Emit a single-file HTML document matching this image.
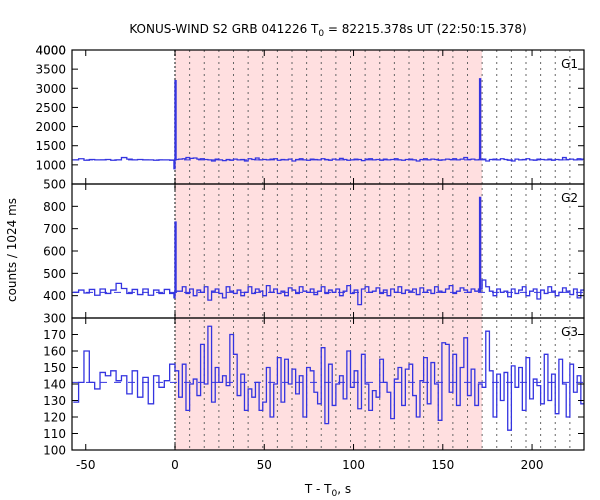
<!DOCTYPE html>
<html><head><meta charset="utf-8"><style>
body{margin:0;background:#fff}
svg{display:block;font-family:"DejaVu Sans","Liberation Sans",sans-serif}
</style></head><body>
<svg id="c" width="600" height="500" xmlns="http://www.w3.org/2000/svg">
<text x="328" y="33" text-anchor="middle" font-size="12">KONUS-WIND S2 GRB 041226 T<tspan font-size="9" dy="3">0</tspan><tspan dy="-3"> = 82215.378s UT (22:50:15.378)</tspan></text>
<text x="328" y="493" text-anchor="middle" font-size="12">T - T<tspan font-size="9" dy="3">0</tspan><tspan dy="-3">, s</tspan></text>
<text transform="translate(16,250) rotate(-90)" text-anchor="middle" font-size="12">counts / 1024 ms</text>
</svg>
<script>
const preStart=-57, preW=3, postW=2.048, spikeW=0.6;
const g1Pre=[1130,1160,1120,1140,1130,1130,1140,1120,1130,1190,1150,1130,1140,1130,1130,1120,1130,1130,1120];
const g2Pre=[415,425,412,428,402,430,410,425,455,432,410,428,405,430,402,425,410,428,410];
const g3Pre=[129,141,160,141,137,147,145,148,142,145,134,148,132,144,128,145,138,142,152];
const g1Post=[1140,1150,1160,1190,1170,1180,1150,1160,1140,1130,1100,1150,1130,1110,1140,1120,1150,1130,1140,1100,1160,1140,1180,1130,1140,1130,1150,1160,1120,1140,1130,1150,1100,1140,1160,1130,1120,1150,1140,1130,1160,1140,1120,1150,1130,1170,1140,1120,1130,1150,1140,1110,1150,1160,1130,1140,1120,1150,1130,1140,1160,1130,1120,1140,1150,1130,1100,1140,1160,1130,1150,1140,1120,1130,1150,1140,1160,1130,1150,1190,1140,1150,1130,1140,1150,1100,1140,1150,1130,1160,1140,1120,1100,1150,1130,1140,1160,1130,1120,1150,1140,1130,1150,1120,1140,1130,1190,1140,1150,1130,1160,1150,1170];
const g2Post=[420,420,440,410,430,400,425,415,440,380,420,430,410,390,440,420,410,425,400,415,440,410,430,420,400,445,415,430,410,420,400,435,425,410,440,420,415,430,405,420,440,410,425,415,430,400,420,445,410,425,360,430,440,415,420,435,410,425,400,430,415,440,410,425,420,430,405,435,415,425,410,440,420,415,430,445,410,420,435,425,415,430,420,430,470,440,420,400,430,415,420,395,430,410,425,440,400,420,430,385,425,410,440,420,400,415,435,420,405,430,390,425,420];
const g3Post=[148,132,152,124,140,143,133,164,140,175,129,150,141,145,139,170,158,133,146,124,137,132,141,124,129,150,120,140,156,129,155,140,149,134,145,120,150,148,135,128,162,116,152,127,140,145,131,160,138,148,125,158,140,124,136,132,155,141,135,119,143,150,127,149,152,133,120,142,156,128,153,140,118,165,164,135,158,127,150,168,133,149,127,140,138,172,148,120,146,130,147,112,151,138,150,124,156,131,143,139,128,158,130,146,122,155,140,120,152,135,145,128,158];
const spikeTimes=[-0.6,0,170.6];
const g1Spikes=[900,3200,3250];
const g2Spikes=[390,730,840];
const bgLevels=[1130,415,141];
const xTicks=[-50,0,50,100,150,200];
const yTicks1=[500,1000,1500,2000,2500,3000,3500,4000];
const yTicks2=[300,400,500,600,700,800];
const yTicks3=[100,110,120,130,140,150,160,170];
const panelNames=["G1","G2","G3"];
const intervalEnd=172, dashStep=8.192, dashCount=27;

const NS="http://www.w3.org/2000/svg", svg=document.getElementById("c");
const L=72,R=584,xmin=-57.7,xmax=229.1;
const X=t=>L+(t-xmin)/(xmax-xmin)*(R-L);
function el(tag,attrs,parent){const e=document.createElementNS(NS,tag);for(const k in attrs)e.setAttribute(k,attrs[k]);(parent||svg).appendChild(e);return e;}
const panels=[
 {top:50,bot:184,min:500,max:4000,ticks:yTicks1,pre:g1Pre,post:g1Post,spikes:g1Spikes},
 {top:184,bot:318,min:300,max:900,ticks:yTicks2,pre:g2Pre,post:g2Post,spikes:g2Spikes},
 {top:318,bot:450,min:100,max:180,ticks:yTicks3,pre:g3Pre,post:g3Post,spikes:null}];
const pink=el("rect",{x:X(0),y:50,width:X(intervalEnd)-X(0),height:400,fill:"#ffdfe0"});


for(let k=0;k<=dashCount;k++){
 const d=el("line",{x1:X(k*dashStep),x2:X(k*dashStep),y1:50,y2:450,stroke:"#666",
  "stroke-width":k==0?1.6:1,"stroke-dasharray":k==0?"2,2":"2,4"});
 
 
}
panels.forEach((p,i)=>{
 const Y=v=>p.bot-(v-p.min)/(p.max-p.min)*(p.bot-p.top);
 const g=el("g",{});
 
 
 const bg=el("line",{x1:L,x2:R,y1:Y(bgLevels[i]),y2:Y(bgLevels[i]),stroke:"#3434e0","stroke-width":1,"stroke-dasharray":"7,7"},g);
 
 
 let d="";let first=true;
 const add=(t0,w,v)=>{const y=Y(Math.min(v,p.max));if(first){d+="M"+X(Math.max(t0,xmin))+","+y;first=false;}else d+="L"+X(t0)+","+y;d+="L"+X(Math.min(t0+w,xmax))+","+y;};
 p.pre.forEach((v,j)=>add(preStart+j*preW,preW,v));
 p.post.forEach((v,j)=>{const t=j*postW;if(t<xmax)add(t,postW,v);});
 const path=el("path",{d:d,fill:"none",stroke:"#3434e0","stroke-width":1.3},g);
 
 
 if(p.spikes){
  p.spikes.forEach((v,j)=>{
   const t=spikeTimes[j], base=Y(bgLevels[i]);
   const sp=el("path",{d:"M"+X(t)+","+base+"L"+X(t)+","+Y(v)+"L"+X(t+spikeW)+","+Y(v)+"L"+X(t+spikeW)+","+base,fill:"none",stroke:"#3434e0","stroke-width":1.3},g);
   
   
  });
 }
 const fr=el("rect",{x:L,y:p.top,width:R-L,height:p.bot-p.top,fill:"none",stroke:"#000","stroke-width":1.2},g);
 
 
 xTicks.forEach(t=>{
  el("line",{x1:X(t),x2:X(t),y1:p.top,y2:p.top+6,stroke:"#000"},g);
  el("line",{x1:X(t),x2:X(t),y1:p.bot,y2:p.bot-6,stroke:"#000"},g);
 });
 p.ticks.forEach(v=>{
  el("line",{x1:L,x2:L+6,y1:Y(v),y2:Y(v),stroke:"#000"},g);
  el("line",{x1:R,x2:R-6,y1:Y(v),y2:Y(v),stroke:"#000"},g);
  const tl=el("text",{x:L-6,y:Y(v)+4.5,"text-anchor":"end","font-size":12},g);
  tl.textContent=v;
  
  
 });
 const lab=el("text",{x:R-6,y:p.top+18,"text-anchor":"end","font-size":12},g);
 lab.textContent=panelNames[i];
 
 
});
const top4=el("text",{x:L-6,y:54.5,"text-anchor":"end","font-size":12});
top4.textContent="4000";


xTicks.forEach(t=>{
 const tl=el("text",{x:X(t),y:469,"text-anchor":"middle","font-size":12});
 tl.textContent=t;
 
 
});
</script>
</body></html>
